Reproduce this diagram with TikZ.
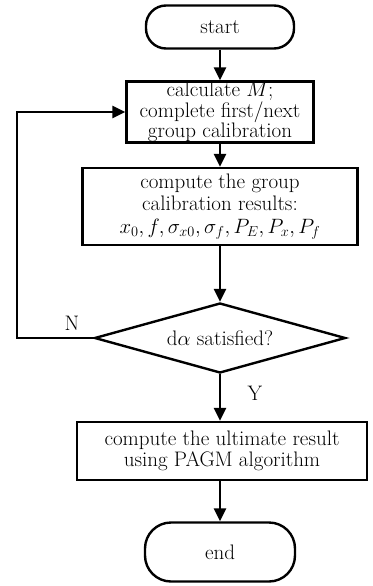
\documentclass[tikz,border=0pt]{standalone}
\usepackage{amsmath}
\usetikzlibrary{positioning}
\usetikzlibrary{calc}
\usetikzlibrary{shapes}
\usetikzlibrary{shapes.geometric}
\usetikzlibrary{arrows.meta}
\tikzset{flowLine/.style={line width=2.4pt, -{Triangle[length=13pt, width=12pt]}}}
\tikzset{termBox/.style={draw, line width=2.4pt, rounded corners=20pt, align=center}}
\tikzset{stepBox/.style={draw, line width=2.4pt, align=center, inner sep=0pt}}
\tikzset{decBox/.style={draw, line width=2.4pt, shape=diamond, aspect=3.6, inner sep=0pt}}
\tikzset{lblText/.style={inner sep=0pt}}

\begin{document}
\begin{tikzpicture}[x=1pt, y=-1pt, font=\fontsize{21}{19}\selectfont]

\useasboundingbox (0, 0) rectangle (372, 586);

\node[termBox, minimum width=148pt, minimum height=43pt] (start) at (220, 27) {start};

\node[stepBox, minimum width=187pt, minimum height=61pt] (calc) at (220, 112) {calculate $M$;\\complete first/next\\group calibration};

\node[stepBox, minimum width=275pt, minimum height=77pt, font=\fontsize{21}{22.5}\selectfont] (results) at (220, 206.5) {compute the group\\calibration results:\\$x_0, f, \sigma_{x0}, \sigma_f, P_E, P_x, P_f$};

\node[decBox, minimum width=251pt, minimum height=70pt] (check) at (220, 338) {d$\alpha$ satisfied?};

\node[stepBox, minimum width=290pt, minimum height=58pt, font=\fontsize{21}{21}\selectfont] (final) at (222, 451) {compute the ultimate result\\using PAGM algorithm};

\node[termBox, rounded corners=26pt, minimum width=150pt, minimum height=59pt] (end) at (220, 552) {end};

\node[lblText] (lblN) at (72, 323) {N};
\node[lblText] (lblY) at (255, 393) {Y};

\coordinate (loop) at (17, 338);

\draw[flowLine] (start) -- (calc);
\draw[flowLine] (calc) -- (results);
\draw[flowLine] (results) -- (check);
\draw[flowLine] (check) -- (final.north -| check);
\draw[flowLine] (final.south -| check) -- (end);
\draw[flowLine] (check.west) -- (loop) |- (calc.west);

\end{tikzpicture}
\end{document}
